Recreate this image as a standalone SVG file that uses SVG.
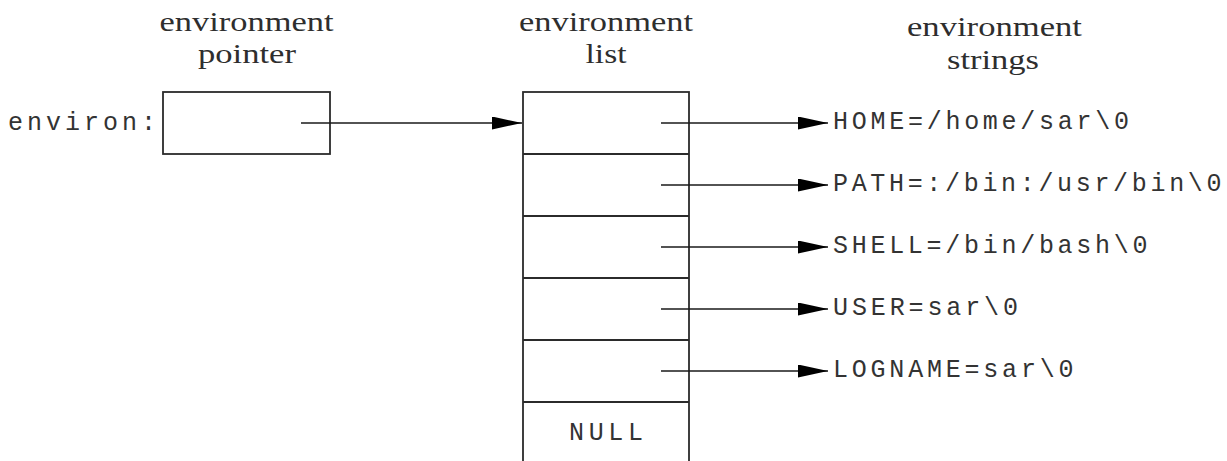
<svg xmlns="http://www.w3.org/2000/svg" width="1227" height="461" viewBox="0 0 1227 461">
  <style>
    .box { fill: #ffffff; stroke: #2b2b2b; stroke-width: 1.8; }
    .div { stroke: #2b2b2b; stroke-width: 1.8; }
    .edge { stroke: #1a1a1a; stroke-width: 1.5; fill: none; }
    .cap { font-family: "Liberation Serif", "Times New Roman", serif; font-size: 28px; fill: #2e2e2e; text-anchor: middle; }
    .mono { font-family: "Liberation Mono", "Courier New", monospace; font-size: 25px; fill: #333333; }
  </style>
  <defs>
    <marker id="head" viewBox="0 0 30 13" refX="30" refY="6.5" markerWidth="30" markerHeight="13" markerUnits="userSpaceOnUse" orient="auto">
      <path d="M0,0 L30,6.5 L0,13 Z" fill="#000000"/>
    </marker>
  </defs>

  <rect x="0" y="0" width="1227" height="461" fill="#ffffff"/>

  <!-- pointer variable -->
  <g id="env-pointer">
    <text class="cap" x="246.5" y="31" textLength="174" lengthAdjust="spacingAndGlyphs">environment</text>
    <text class="cap" x="247" y="63" textLength="98" lengthAdjust="spacingAndGlyphs">pointer</text>
    <rect class="box" x="163" y="92" width="167" height="62"/>
    <text class="mono" x="8" y="130" textLength="148" lengthAdjust="spacing">environ:</text>
  </g>

  <!-- array of pointers, NULL terminated -->
  <g id="env-list">
    <text class="cap" x="606" y="31" textLength="174" lengthAdjust="spacingAndGlyphs">environment</text>
    <text class="cap" x="606" y="63" textLength="41" lengthAdjust="spacingAndGlyphs">list</text>
    <rect class="box" x="523" y="92" width="166" height="400"/>
    <line class="div" x1="523" y1="154" x2="689" y2="154"/>
    <line class="div" x1="523" y1="216" x2="689" y2="216"/>
    <line class="div" x1="523" y1="278" x2="689" y2="278"/>
    <line class="div" x1="523" y1="340" x2="689" y2="340"/>
    <line class="div" x1="523" y1="402" x2="689" y2="402"/>
    <text class="mono" x="606" y="440" text-anchor="middle" textLength="74" lengthAdjust="spacing">NULL</text>
  </g>

  <!-- string contents -->
  <g id="env-strings-title">
    <text class="cap" x="994.5" y="36" textLength="175" lengthAdjust="spacingAndGlyphs">environment</text>
    <text class="cap" x="993" y="69" textLength="92" lengthAdjust="spacingAndGlyphs">strings</text>
  </g>
  <g id="str-home"><text class="mono" x="833" y="129" textLength="296" lengthAdjust="spacing">HOME=/home/sar\0</text></g>
  <g id="str-path"><text class="mono" x="833" y="191" textLength="388.5" lengthAdjust="spacing">PATH=:/bin:/usr/bin\0</text></g>
  <g id="str-shell"><text class="mono" x="833" y="253" textLength="314.5" lengthAdjust="spacing">SHELL=/bin/bash\0</text></g>
  <g id="str-user"><text class="mono" x="833" y="315" textLength="185" lengthAdjust="spacing">USER=sar\0</text></g>
  <g id="str-logname"><text class="mono" x="833" y="377" textLength="240.5" lengthAdjust="spacing">LOGNAME=sar\0</text></g>

  <!-- connectors -->
  <g id="connectors">
    <line class="edge" x1="301" y1="123" x2="522" y2="123" marker-end="url(#head)"/>
    <line class="edge" x1="661" y1="123" x2="828" y2="123" marker-end="url(#head)"/>
    <line class="edge" x1="661" y1="185" x2="828" y2="185" marker-end="url(#head)"/>
    <line class="edge" x1="661" y1="247" x2="828" y2="247" marker-end="url(#head)"/>
    <line class="edge" x1="661" y1="309" x2="828" y2="309" marker-end="url(#head)"/>
    <line class="edge" x1="661" y1="371" x2="828" y2="371" marker-end="url(#head)"/>
  </g>
</svg>
